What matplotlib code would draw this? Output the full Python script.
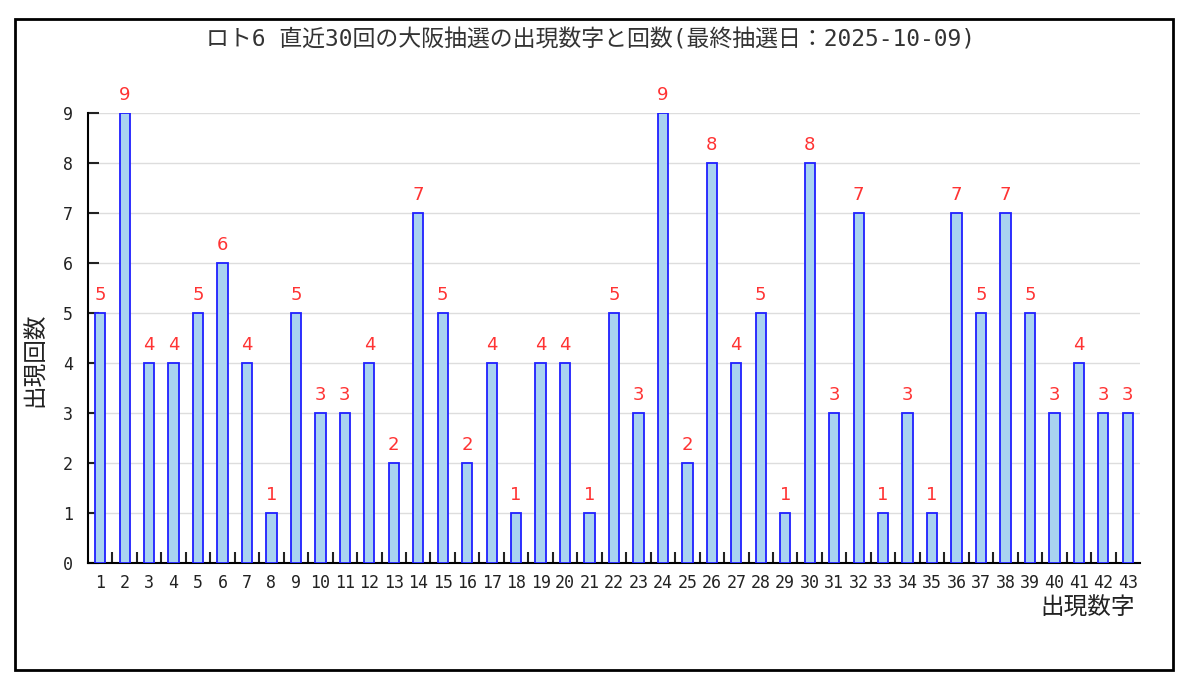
import matplotlib.pyplot as plt
from matplotlib.patches import Rectangle

plt.rcParams['font.family'] = ['DejaVu Sans Mono', 'Noto Sans CJK JP']

# -----------------------------
# Data
# -----------------------------
numbers = list(range(1, 44))
counts = [5, 9, 4, 4, 5, 6, 4, 1, 5, 3,
          3, 4, 2, 7, 5, 2, 4, 1, 4, 4,
          1, 5, 3, 9, 2, 8, 4, 5, 1, 8,
          3, 7, 1, 3, 1, 7, 5, 7, 5, 3,
          4, 3, 3]
y_ticks = list(range(0, 10))

title = "ロト6 直近30回の大阪抽選の出現数字と回数(最終抽選日：2025-10-09)"

# -----------------------------
# Plot
# -----------------------------
fig = plt.figure(figsize=(12, 6.85), dpi=100)
ax = fig.add_axes([0.0733, 0.178, 0.8767, 0.657])

ax.bar(numbers, counts, width=0.42, color="#a9d3f0", edgecolor="#1f1fff", linewidth=1.3, zorder=3)

for x, c in zip(numbers, counts):
    ax.text(x, c + 0.18, str(c), ha="center", va="bottom", color="#ff3333",
            fontsize=13, family="DejaVu Sans")

ax.set_xlim(0.5, 43.5)
ax.set_ylim(0, 9)
ax.set_yticks(y_ticks)
ax.set_xticks(numbers)
ax.set_xticks([n + 0.5 for n in numbers[:-1]], minor=True)
ax.tick_params(axis="x", which="major", length=0, pad=8, labelsize=12, colors="#222222")
ax.tick_params(axis="x", which="minor", direction="in", length=8, width=1.5, color="#222222")
ax.tick_params(axis="y", direction="in", length=8, width=1.5, pad=11, labelsize=12, colors="#222222")

ax.grid(axis="y", color="#dddddd", linewidth=1, zorder=0)
ax.spines["top"].set_visible(False)
ax.spines["right"].set_visible(False)
ax.spines["left"].set_linewidth(1.5)
ax.spines["bottom"].set_linewidth(1.5)

fig.text(0.492, 0.942, title, ha="center", va="center", fontsize=16.5, color="#333333")
fig.text(0.029, 0.475, "出現回数", rotation=90, ha="center", va="center", fontsize=17, color="#222222")
fig.text(0.946, 0.113, "出現数字", ha="right", va="center", fontsize=17, color="#222222")

# outer frame
fig.patches.append(Rectangle((15 / 1200, 1 - 670 / 685), 1158 / 1200, 651 / 685,
                             transform=fig.transFigure, fill=False, edgecolor="black", linewidth=2))

plt.savefig("out.png", dpi=100)
